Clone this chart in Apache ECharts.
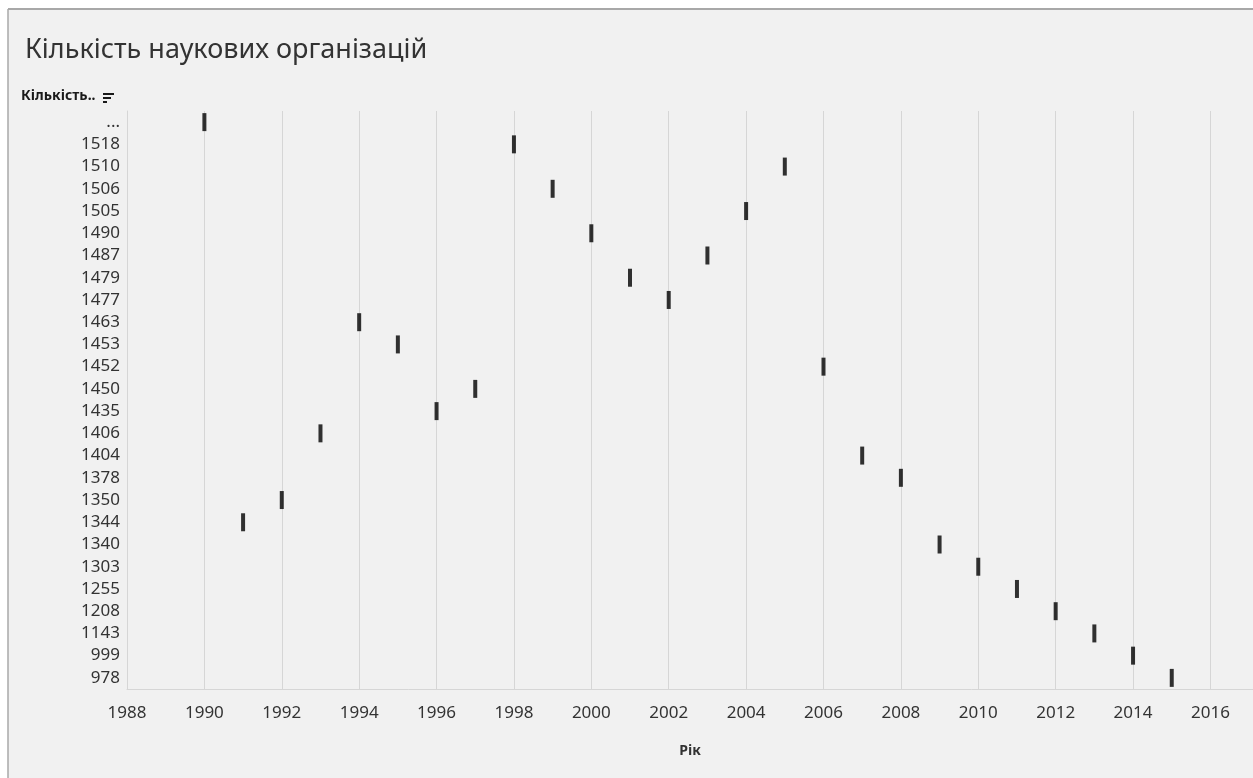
<!DOCTYPE html>
<html>
<head>
<meta charset="utf-8">
<script src="https://cdn.jsdelivr.net/npm/echarts@6/dist/echarts.min.js"></script>
<style>
  html, body { margin: 0; padding: 0; background: #ffffff; }
  #chart { width: 1253px; height: 778px; }
</style>
</head>
<body>
<div id="chart"></div>
<script>
/* Кількість наукових організацій по роках */
var years = [1990, 1991, 1992, 1993, 1994, 1995, 1996, 1997, 1998, 1999, 2000, 2001, 2002,
             2003, 2004, 2005, 2006, 2007, 2008, 2009, 2010, 2011, 2012, 2013, 2014, 2015];
var counts = ['...', '1344', '1350', '1406', '1463', '1453', '1435', '1450', '1518', '1506', '1490', '1479', '1477',
              '1487', '1505', '1510', '1452', '1404', '1378', '1340', '1303', '1255', '1208', '1143', '999', '978'];
// порядок рядків зверху вниз
var countLabels = ['...', '1518', '1510', '1506', '1505', '1490', '1487', '1479', '1477', '1463', '1453',
                   '1452', '1450', '1435', '1406', '1404', '1378', '1350', '1344', '1340', '1303', '1255',
                   '1208', '1143', '999', '978'];

var points = [];
for (var i = 0; i < years.length; i++) {
	points.push([years[i], counts[i]]);
}

var chart = echarts.init(document.getElementById('chart'));
var textColor = '#333333';
var gridColor = '#d6d6d6';

var option = {
	backgroundColor: '#ffffff',
	animation: false,
	textStyle: { fontFamily: 'Noto Sans' },
	title: {
		text: 'Кількість наукових організацій',
		left: 20,
		top: 32,
		textStyle: { fontSize: 27, fontWeight: 'normal', color: textColor, fontFamily: 'Noto Sans' }
	},
	grid: {
		left: 127,
		right: 0,
		top: 111,
		bottom: 89
	},
	xAxis: {
		type: 'value',
		min: 1988,
		max: 2017.1,
		interval: 2,
		name: 'Рік',
		nameLocation: 'middle',
		nameGap: 55,
		nameTextStyle: { fontSize: 14, fontWeight: 'bold', color: textColor },
		axisLine: { show: true, lineStyle: { color: gridColor } },
		axisTick: { show: false },
		axisLabel: {
			color: textColor,
			fontSize: 17,
			margin: 16,
			showMaxLabel: false,
			formatter: function (v) { return String(v); }
		},
		splitLine: { show: true, lineStyle: { color: gridColor, width: 1 } }
	},
	yAxis: {
		type: 'category',
		data: countLabels,
		inverse: true,
		axisLine: { show: true, lineStyle: { color: gridColor } },
		axisTick: { show: false },
		axisLabel: { color: textColor, fontSize: 17, margin: 7 },
		splitLine: { show: false }
	},
	graphic: [
		{ type: 'rect', left: 8, top: 9, shape: { width: 1245, height: 769 }, style: { fill: '#f1f1f1' }, z: -10 },
		{ type: 'line', shape: { x1: 8, y1: 9, x2: 1253, y2: 9 }, style: { stroke: '#a8a8a8', lineWidth: 2 }, z: 10 },
		{ type: 'line', shape: { x1: 8, y1: 9, x2: 8, y2: 778 }, style: { stroke: '#a8a8a8', lineWidth: 1.5 }, z: 10 },
		{ type: 'text', left: 21, top: 89, style: { text: 'Кількість..', fill: '#1a1a1a', font: 'bold 14px "Noto Sans"' } },
		{ type: 'rect', shape: { x: 103, y: 93, width: 11, height: 2 }, style: { fill: '#1a1a1a' } },
		{ type: 'rect', shape: { x: 103, y: 97, width: 8, height: 2 }, style: { fill: '#1a1a1a' } },
		{ type: 'rect', shape: { x: 103, y: 101, width: 4, height: 2 }, style: { fill: '#1a1a1a' } }
	],
	series: [
		{
			name: 'Кількість',
			type: 'scatter',
			symbol: 'rect',
			symbolSize: [4, 18],
			itemStyle: { color: '#000000' },
			data: points
		}
	]
};

chart.setOption(option, true);
</script>
</body>
</html>
